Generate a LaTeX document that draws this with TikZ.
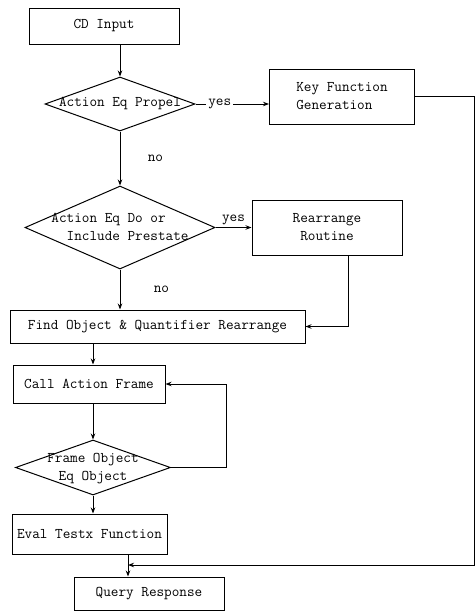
\documentclass[tikz,border=0pt]{standalone}
\usepackage{fontspec}
\usetikzlibrary{shapes.geometric,arrows.meta}

\begin{document}
\begin{tikzpicture}[x=1pt, y=-1pt, line width=1pt,
	    font=\ttfamily\fontsize{14.8}{18}\selectfont,
	    block/.style={draw, rectangle, inner sep=0pt, align=center},
	    decision/.style={draw, diamond, inner sep=0pt, aspect=1},
	    arrow/.style={-{Stealth[length=6pt,width=4.5pt]}},
	    tag/.style={inner sep=2pt}]
	\useasboundingbox (0,0) rectangle (476,614);

	\node[block, minimum width=150, minimum height=36] (input) at (104,26) {CD Input};
	\node[decision, minimum width=150, minimum height=54] (propel) at (120,104)
		{\makebox[0pt]{Action Eq Propel}};
	\node[block, minimum width=145, minimum height=55, align=left] (keyfn) at (342,96.5)
		{Key Function\\Generation};
	\node[decision, minimum width=190, minimum height=83] (prestate) at (120,227.5)
		{\makebox[0pt]{\begin{tabular}{@{}l@{}}Action Eq Do or\\\ \ Include Prestate\end{tabular}}};
	\node[block, minimum width=150, minimum height=55] (rearr) at (327,227.5) {Rearrange\\Routine};
	\node[block, minimum width=295, minimum height=33] (find) at (157.5,326.5)
		{Find Object \& Quantifier Rearrange};
	\node[block, minimum width=152, minimum height=38] (call) at (89,384) {Call Action Frame};
	\node[decision, minimum width=155, minimum height=55] (match) at (93,467.5)
		{\makebox[0pt]{\begin{tabular}{@{}c@{}}Frame Object\\Eq Object\end{tabular}}};
	\node[block, minimum width=155, minimum height=40] (eval) at (89.5,534) {Eval Testx Function};
	\node[block, minimum width=150, minimum height=33] (query) at (149,593.5) {Query Response};

	% feedback line on the right
	\coordinate (merge) at (128,565);
	\coordinate (corner) at (474,565);

	\draw[arrow] (input.south -| propel) -- (propel.north);
	\draw[arrow] (propel.east) -- node[pos=.33, fill=white, tag] {yes} (propel.east -| keyfn.west);
	\draw[arrow] (propel.south) -- node[right=24pt] {no} (prestate.north);
	\draw[arrow] (prestate.east) -- node[above, tag] {yes} (prestate.east -| rearr.west);
	\draw[arrow] (prestate.south) -- node[right=30pt] {no} (find.north -| prestate);
	\draw[arrow] ([xshift=21pt]rearr.south) |- (find.east);
	\draw[arrow] (find.south -| match) -- (call.north -| match);
	\draw[arrow] (call.south -| match) -- (match.north);
	\draw[arrow] (match.east) -- ++(55,0) |- (call.east);
	\draw[arrow] (match.south) -- (eval.north -| match);
	\draw[arrow] (eval.south -| merge) -- (query.north -| merge);
	\draw[arrow] (keyfn.east) -| (corner) -- (merge);
\end{tikzpicture}
\end{document}
